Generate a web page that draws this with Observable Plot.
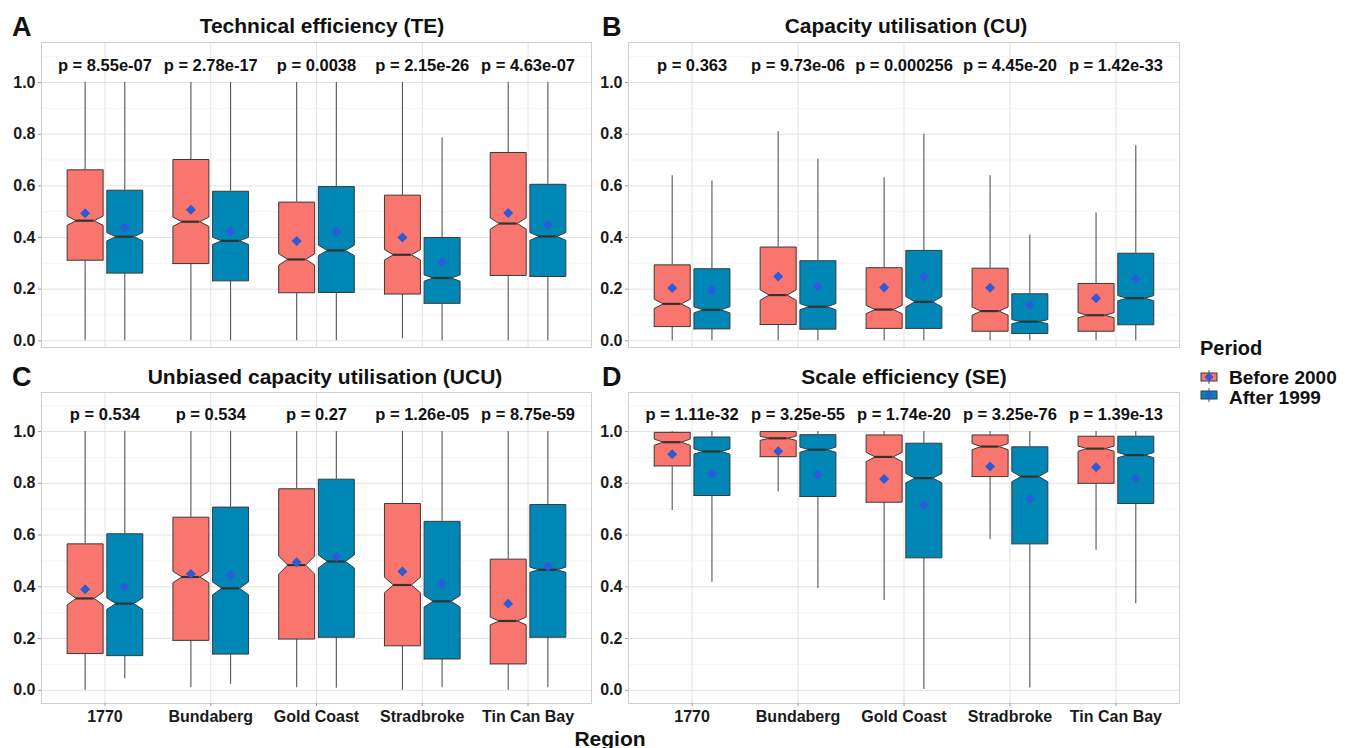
<!DOCTYPE html>
<html><head><meta charset="utf-8">
<script src="https://cdn.jsdelivr.net/npm/d3@7"></script>
<script src="https://cdn.jsdelivr.net/npm/@observablehq/plot@0.6"></script>
<style>
body{margin:0;background:#fff;font-family:"Liberation Sans",Arial,Helvetica,sans-serif;}
#root{position:relative;width:1362px;height:748px;overflow:hidden;background:#fff;}
.abs{position:absolute;white-space:nowrap;font-weight:bold;color:#111;line-height:1;transform:translate(-50%,-50%);}
.pl{position:absolute;}
</style></head><body><div id="root"></div>
<script>
// ---------- data ----------
const regions = ["1770", "Bundaberg", "Gold Coast", "Stradbroke", "Tin Can Bay"];
const periods = ["Before 2000", "After 1999"];
const periodColors = ["#F8766D", "#0087B5"];
// each row: [whiskerLow, q1, median, q3, whiskerHigh, mean, notchHalfHeight]
const TE_before = [
  [0, 0.312, 0.465, 0.662, 1.0, 0.494, 0.018],
  [0, 0.299, 0.461, 0.702, 1.0, 0.507, 0.018],
  [0, 0.186, 0.315, 0.537, 1.0, 0.386, 0.022],
  [0.008, 0.181, 0.333, 0.564, 1.0, 0.400, 0.020],
  [0, 0.253, 0.454, 0.729, 1.0, 0.495, 0.022]
];
const TE_after = [
  [0, 0.262, 0.403, 0.583, 1.0, 0.439, 0.016],
  [0, 0.232, 0.387, 0.579, 1.0, 0.423, 0.014],
  [0, 0.187, 0.350, 0.597, 1.0, 0.421, 0.020],
  [0, 0.145, 0.243, 0.400, 0.785, 0.305, 0.012],
  [0, 0.249, 0.404, 0.606, 1.0, 0.449, 0.015]
];
const CU_before = [
  [0, 0.055, 0.143, 0.294, 0.639, 0.204, 0.018],
  [0, 0.063, 0.177, 0.363, 0.809, 0.249, 0.020],
  [0, 0.048, 0.121, 0.283, 0.631, 0.206, 0.016],
  [0, 0.037, 0.115, 0.281, 0.639, 0.205, 0.016],
  [0, 0.037, 0.099, 0.222, 0.495, 0.165, 0.010]
];
const CU_after = [
  [0, 0.046, 0.120, 0.279, 0.619, 0.196, 0.012],
  [0, 0.045, 0.132, 0.310, 0.703, 0.210, 0.012],
  [0, 0.048, 0.151, 0.350, 0.800, 0.248, 0.020],
  [0, 0.028, 0.074, 0.182, 0.410, 0.138, 0.008],
  [0, 0.062, 0.165, 0.339, 0.755, 0.240, 0.010]
];
const UCU_before = [
  [0, 0.142, 0.355, 0.566, 1.0, 0.391, 0.025],
  [0.010, 0.193, 0.438, 0.669, 1.0, 0.450, 0.022],
  [0.010, 0.198, 0.484, 0.779, 1.0, 0.495, 0.035],
  [0, 0.172, 0.407, 0.722, 1.0, 0.459, 0.030],
  [0, 0.102, 0.268, 0.507, 1.0, 0.335, 0.015]
];
const UCU_after = [
  [0.045, 0.134, 0.335, 0.605, 1.0, 0.400, 0.022],
  [0.023, 0.140, 0.394, 0.708, 1.0, 0.444, 0.025],
  [0.008, 0.205, 0.498, 0.816, 1.0, 0.516, 0.025],
  [0.010, 0.121, 0.344, 0.653, 1.0, 0.412, 0.022],
  [0.010, 0.205, 0.466, 0.718, 1.0, 0.479, 0.010]
];
const SE_before = [
  [0.695, 0.867, 0.959, 0.997, 1.0, 0.912, 0.012],
  [0.766, 0.903, 0.974, 1.0, 1.0, 0.924, 0.008],
  [0.347, 0.727, 0.902, 0.987, 1.0, 0.817, 0.018],
  [0.583, 0.826, 0.942, 0.987, 1.0, 0.865, 0.012],
  [0.541, 0.800, 0.934, 0.982, 1.0, 0.862, 0.010]
];
const SE_after = [
  [0.418, 0.753, 0.923, 0.979, 1.0, 0.837, 0.010],
  [0.393, 0.749, 0.930, 0.988, 1.0, 0.833, 0.010],
  [0.003, 0.512, 0.820, 0.955, 1.0, 0.716, 0.018],
  [0.009, 0.566, 0.826, 0.941, 1.0, 0.739, 0.020],
  [0.335, 0.722, 0.909, 0.982, 1.0, 0.820, 0.010]
];
const TE_p = ["p = 8.55e-07", "p = 2.78e-17", "p = 0.0038", "p = 2.15e-26", "p = 4.63e-07"];
const CU_p = ["p = 0.363", "p = 9.73e-06", "p = 0.000256", "p = 4.45e-20", "p = 1.42e-33"];
const UCU_p = ["p = 0.534", "p = 0.534", "p = 0.27", "p = 1.26e-05", "p = 8.75e-59"];
const SE_p = ["p = 1.11e-32", "p = 3.25e-55", "p = 1.74e-20", "p = 3.25e-76", "p = 1.39e-13"];
const yTicks = [0, 0.2, 0.4, 0.6, 0.8, 1.0];
const yMinor = [0.1, 0.3, 0.5, 0.7, 0.9, 1.1];

// ---------- drawing ----------
const FONT = '"Liberation Sans", Arial, Helvetica, sans-serif';
const dodge = 0.1875, half = 0.17, indent = half / 2;

function panel(before, after, pvals, o) {
  const rows = [];
  [before, after].forEach((arr, k) => arr.forEach((s, i) => {
    const [low, q1, med, q3, high, mean, nh] = s;
    const c = i + 1 + (k === 0 ? -dodge : dodge);
    rows.push({k, id: k * 10 + i, c, L: c - half, R: c + half, low, q1, med, q3, high, mean, nLo: med - nh, nHi: med + nh});
  }));
  const poly = [];
  for (const r of rows) {
    const pts = [[r.L, r.q1], [r.R, r.q1], [r.R, r.nLo], [r.R - indent, r.med], [r.R, r.nHi], [r.R, r.q3],
                 [r.L, r.q3], [r.L, r.nHi], [r.L + indent, r.med], [r.L, r.nLo], [r.L, r.q1]];
    for (const [x, y] of pts) poly.push({id: r.id, k: r.k, x, y});
  }
  const marks = [
    Plot.gridY({ticks: yMinor, stroke: "#ececec", strokeOpacity: 1, strokeWidth: 0.6}),
    Plot.gridY({ticks: yTicks, stroke: "#e3e3e3", strokeOpacity: 1, strokeWidth: 1}),
    Plot.gridX({ticks: [1, 2, 3, 4, 5], stroke: "#e3e3e3", strokeOpacity: 1, strokeWidth: 1}),
    Plot.frame({stroke: "#cfcfcf", strokeWidth: 1}),
    Plot.axisY({ticks: yTicks, tickFormat: d3.format(".1f"), tickSize: 3, tickPadding: 3, label: null,
                fontSize: 16, fontWeight: "bold", fill: "#1a1a1a", stroke: "#999", fontFamily: FONT}),
    Plot.ruleX(rows, {x: "c", y1: "low", y2: "q1", stroke: "#555", strokeWidth: 1.1}),
    Plot.ruleX(rows, {x: "c", y1: "q3", y2: "high", stroke: "#555", strokeWidth: 1.1}),
    ...[0, 1].map(k => Plot.line(poly.filter(d => d.k === k), {x: "x", y: "y", z: "id", fill: periodColors[k],
                stroke: "#3a3a3a", strokeWidth: 1, curve: "linear"})),
    Plot.ruleY(rows, {y: "med", x1: d => d.L + indent, x2: d => d.R - indent, stroke: "#333", strokeWidth: 2.2}),
    Plot.dot(rows, {x: "c", y: "mean", symbol: "diamond2", r: 4.5, fill: "#2B5BD8", stroke: null}),
    Plot.text(regions.map((r, i) => ({i: i + 1, t: pvals[i]})), {x: "i", y: () => 1.064, text: "t",
                fontSize: 16.5, fontWeight: "bold", fill: "#111", fontFamily: FONT})
  ];
  if (o.xlabels) marks.push(Plot.axisX({ticks: [1, 2, 3, 4, 5], tickFormat: d => regions[d - 1], tickSize: 3,
                tickPadding: 4, label: null, fontSize: 16, fontWeight: "bold", fill: "#1a1a1a", stroke: "#999", fontFamily: FONT}));
  const svg = Plot.plot({
    width: o.width, height: o.height,
    marginLeft: o.ml, marginRight: o.mr, marginTop: o.mt, marginBottom: o.mb,
    x: {domain: [0.4, 5.6], axis: null},
    y: {domain: o.ydom, axis: null},
    style: {background: "transparent", fontFamily: FONT, overflow: "visible"},
    marks
  });
  const div = document.createElement("div");
  div.className = "pl";
  div.style.left = o.left + "px"; div.style.top = o.top + "px";
  div.appendChild(svg);
  document.getElementById("root").appendChild(div);
}

panel(TE_before, TE_after, TE_p, {left: 0, top: 0, width: 595, height: 360, ml: 41, mr: 4, mt: 42, mb: 13, ydom: [-0.026, 1.155]});
panel(CU_before, CU_after, CU_p, {left: 595, top: 0, width: 592, height: 360, ml: 33, mr: 8, mt: 42, mb: 13, ydom: [-0.026, 1.155]});
panel(UCU_before, UCU_after, UCU_p, {left: 0, top: 360, width: 595, height: 388, ml: 41, mr: 4, mt: 32, mb: 45, ydom: [-0.051, 1.151], xlabels: true});
panel(SE_before, SE_after, SE_p, {left: 595, top: 360, width: 592, height: 388, ml: 33, mr: 8, mt: 32, mb: 45, ydom: [-0.051, 1.151], xlabels: true});

// ---------- text ----------
function txt(s, x, y, size, anchor) {
  const d = document.createElement("div");
  d.className = "abs"; d.textContent = s;
  d.style.left = x + "px"; d.style.top = y + "px"; d.style.fontSize = size + "px";
  if (anchor === "start") d.style.transform = "translate(0,-50%)";
  document.getElementById("root").appendChild(d);
}
txt("Technical efficiency (TE)", 322, 25, 21);
txt("Capacity utilisation (CU)", 906, 25, 21);
txt("Unbiased capacity utilisation (UCU)", 325, 376, 21);
txt("Scale efficiency (SE)", 904, 376, 21);
txt("A", 12, 27, 27, "start");
txt("B", 602, 27, 27, "start");
txt("C", 12, 377, 27, "start");
txt("D", 602, 377, 27, "start");
txt("Region", 610, 738, 21);
txt("Period", 1200, 348, 20, "start");
txt(periods[0], 1229, 377, 19, "start");
txt(periods[1], 1229, 396.5, 19, "start");

// legend keys
const ns = "http://www.w3.org/2000/svg";
const lsvg = document.createElementNS(ns, "svg");
lsvg.setAttribute("width", 24); lsvg.setAttribute("height", 40);
lsvg.style.position = "absolute"; lsvg.style.left = "1197px"; lsvg.style.top = "366px";
periodColors.forEach((col, k) => {
  const y0 = 4 + k * 18;
  const g = document.createElementNS(ns, "g");
  g.innerHTML = `<line x1="12" x2="12" y1="${y0}" y2="${y0 + 14}" stroke="#555" stroke-width="1"/>
    <rect x="4" y="${y0 + 3}" width="16" height="8" fill="${col}" stroke="#3a3a3a" stroke-width="1"/>
    <path d="M12 ${y0 + 2.5} L16.5 ${y0 + 7} L12 ${y0 + 11.5} L7.5 ${y0 + 7} Z" fill="#2B5BD8"/>`;
  lsvg.appendChild(g);
});
document.getElementById("root").appendChild(lsvg);
</script></body></html>
